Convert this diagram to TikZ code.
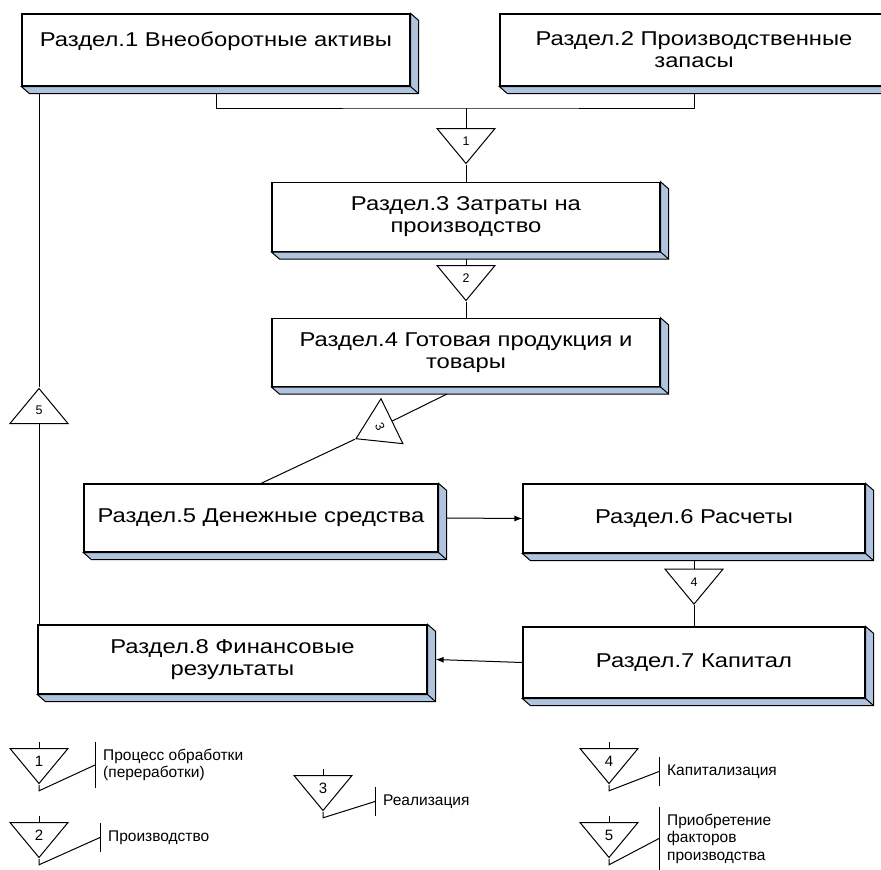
\documentclass[tikz,border=0pt]{standalone}
\usepackage{fontspec}
\setmainfont{Liberation Sans}
\newfontfamily\boxfont[FakeStretch=1.19]{Liberation Sans}
\usetikzlibrary{arrows.meta,positioning,shapes.geometric}
\definecolor{bevelblue}{RGB}{176,196,222}
\tikzset{
 section/.style={
 rectangle,
 draw=black,
 fill=white,
 line width=1.2pt,
 align=center,
 inner sep=0pt,
 font=\boxfont\fontsize{20pt}{22pt}\selectfont
 },
 stepmark/.style={
 isosceles triangle,
 isosceles triangle stretches,
 shape border rotate=270,
 draw=black,
 fill=white,
 line width=1pt,
 minimum width=58pt,
 minimum height=35pt,
 inner sep=0pt,
 font=\fontsize{12.5pt}{14pt}\selectfont
 },
 legmark/.style={stepmark, font=\fontsize{15pt}{17pt}\selectfont},
 legtext/.style={
 anchor=west,
 align=left,
 inner xsep=8pt,
 inner ysep=7pt,
 minimum height=29pt,
 font=\fontsize{15.5pt}{17.5pt}\selectfont
 },
 bevel/.style={draw=black, fill=bevelblue, line width=1pt},
 link/.style={line width=1pt, draw=black},
 linkarrow/.style={link, -{Latex[length=8pt,width=6pt]}}
}

\begin{document}
\begin{tikzpicture}[x=1pt, y=-1pt]
 \useasboundingbox (0,0) rectangle (881,870);

 % sections
 \node[section, minimum width=388pt, minimum height=72pt, text depth=21pt] (sec1) at (216,50) {Раздел.1 Внеоборотные активы};
 \node[section, minimum width=388pt, minimum height=72pt] (sec2) at (694,50) {Раздел.2 Производственные\\запасы};
 \coordinate (jn) at (466,108);
 \node[stepmark, below=20pt of jn] (tri1) {1};
 \node[section, minimum width=388pt, minimum height=69pt, below=17pt of tri1] (sec3) {Раздел.3 Затраты на\\производство};
 \node[stepmark, below=13pt of sec3] (tri2) {2};
 \node[section, minimum width=388pt, minimum height=68pt, below=16pt of tri2] (sec4) {Раздел.4 Готовая продукция и\\товары};
 \node[stepmark, minimum width=50pt, minimum height=40pt, rotate=-64] (tri3) at (380,427) {3};
 \node[section, minimum width=354pt, minimum height=68pt] (sec5) at (261,518) {Раздел.5 Денежные средства};
 \node[section, minimum width=342pt, minimum height=69pt] (sec6) at (694,518.5) {Раздел.6 Расчеты};
 \node[stepmark, below=15pt of sec6] (tri4) {4};
 \node[section, minimum width=342pt, minimum height=71pt, below=21pt of tri4] (sec7) {Раздел.7 Капитал};
 \node[section, minimum width=389pt, minimum height=69pt] (sec8) at (232.5,659.5) {Раздел.8 Финансовые\\результаты};
 \node[stepmark, shape border rotate=90, anchor=south] (tri5) at (39,424) {5};

 % 3d edges
 \foreach \s in {sec1,sec2,sec3,sec4,sec5,sec6,sec7,sec8} {
 \draw[bevel] (\s.north east) -- ++(8,7) |- ([shift={(8,7)}]\s.south west) -- (\s.south west) -| (\s.north east) -- cycle;
 \draw[link] (\s.south east) -- ++(8,7);
 }
 \coordinate (sec1b) at ([yshift=-7pt]sec1.south);

 % flows
 \draw[link] (sec1b) |- (jn) -| ([yshift=-7pt]sec2.south);
 \draw[link] (jn) -- (tri1.north);
 \draw[link] (tri1.south) -- (sec3.north);
 \draw[link] ([yshift=-7pt]sec3.south) -- (tri2.north);
 \draw[link] (tri2.south) -- (sec4.north);
 \draw[link] ([xshift=-19pt,yshift=-7pt]sec4.south) -- (tri3.north);
 \draw[link] (tri3.south) -- (sec5.north);
 \draw[linkarrow] ([xshift=8pt]sec5.east) -- (sec6.west);
 \draw[link] ([yshift=-7pt]sec6.south) -- (tri4.north);
 \draw[link] (tri4.south) -- (sec7.north);
 \draw[linkarrow] (sec7.west) -- ([xshift=8pt]sec8.east);
 \draw[link] (tri5.south |- sec8.north) -- (tri5.south);
 \draw[link] (tri5.north) -- (tri5.north |- sec1b);

 % legend
 \node[legmark, anchor=north] (leg1) at (39,748) {1};
 \node[legmark, anchor=north] (leg2) at (39,822) {2};
 \node[legmark, anchor=north] (leg3) at (323,775) {3};
 \node[legmark, anchor=north] (leg4) at (609,748) {4};
 \node[legmark, anchor=north] (leg5) at (609,822) {5};
 \node[legtext] (txt1) at (95,765) {Процесс обработки\\(переработки)};
 \node[legtext] (txt2) at (100,837.5) {Производство};
 \node[legtext] (txt3) at (375,801.5) {Реализация};
 \node[legtext] (txt4) at (659,771.5) {Капитализация};
 \node[legtext] (txt5) at (659,838.5) {Приобретение\\факторов\\производства};
 \foreach \m/\t in {leg1/txt1,leg2/txt2,leg3/txt3,leg4/txt4,leg5/txt5} {
 \draw[link] (\m.north) -- ++(0,-6);
 \draw[link] (\m.south) -- ++(0,6) -- (\t.west);
 \draw[link] (\t.north west) -- (\t.south west);
 }
\end{tikzpicture}
\end{document}
